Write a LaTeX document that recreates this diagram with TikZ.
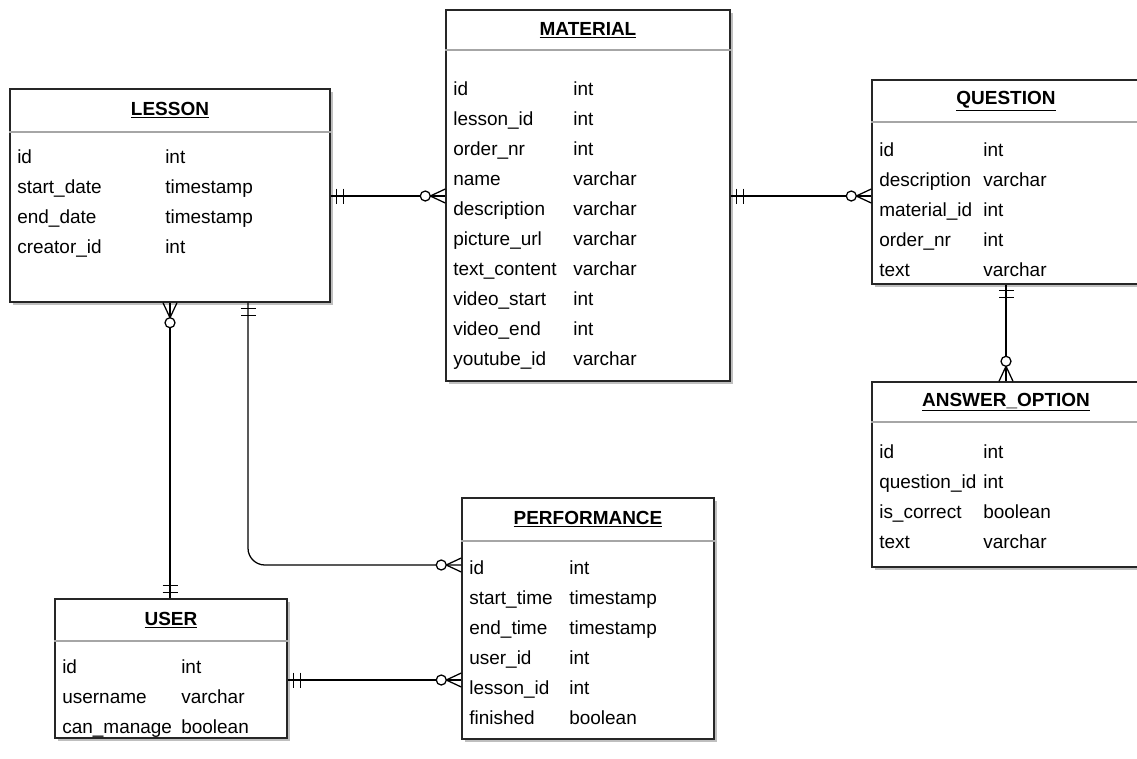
\documentclass[tikz,border=0pt]{standalone}
\usepackage{fontspec}
\setmainfont{Liberation Sans}
\usetikzlibrary{fit,shadows,decorations.markings}

\newcommand{\erfont}{\fontsize{13.5}{16}\selectfont}

\tikzset{
    entity/.style={draw=black!85, line width=1pt, fill=white, inner sep=0pt,
        drop shadow={shadow xshift=2pt, shadow yshift=-2pt, fill=black!25, opacity=1}},
    title/.style={font=\erfont\bfseries, inner sep=0pt},
    field/.style={font=\erfont, anchor=west, inner sep=0pt, text height=1.5ex, text depth=0.25ex},
    header/.style={draw=black!35, line width=1pt},
    rel/.style={line width=0.9pt},
    one start/.style={postaction={decorate, decoration={markings,
        mark=at position 0.15cm with {\draw[rel] (0,-7.5) -- (0,7.5);},
        mark=at position 0.32cm with {\draw[rel] (0,-7.5) -- (0,7.5);}}}},
    many end/.style={postaction={decorate, decoration={markings,
        mark=at position 0.9999 with {\draw[rel, sharp corners] (0,-7) -- (-15,0) -- (0,7);
            \draw[rel, fill=white] (-20,0) circle (5);}}}},
}

\begin{document}
\begin{tikzpicture}[x=0.025cm, y=-0.025cm]
    \useasboundingbox (0,0) rectangle (1137,758);

    % lesson
    \node[entity, fit={(10,89) (330,302)}] (lesson) {};
    \node[title] (lesson title) at (lesson.north |- 0,110) {\underline{LESSON}};
    \draw[header] (lesson.west |- 0,132) -- (lesson.east |- 0,132);
    \foreach \name/\type [count=\i from 0] in {id/int, start\_date/timestamp, end\_date/timestamp, creator\_id/int}
        {\node[field] (lesson n\i) at (17,159+30*\i) {\name};
         \node[field] (lesson t\i) at (165,159+30*\i) {\type};}

    % material
    \node[entity, fit={(446,10) (730,381)}] (material) {};
    \node[title] (material title) at (material.north |- 0,30) {\underline{MATERIAL}};
    \draw[header] (material.west |- 0,50) -- (material.east |- 0,50);
    \foreach \name/\type [count=\i from 0] in {id/int, lesson\_id/int, order\_nr/int, name/varchar, description/varchar,
            picture\_url/varchar, text\_content/varchar, video\_start/int, video\_end/int, youtube\_id/varchar}
        {\node[field] (material n\i) at (453,91+30*\i) {\name};
         \node[field] (material t\i) at (573,91+30*\i) {\type};}

    % question
    \node[entity, fit={(872,80) (1140,284)}] (question) {};
    \node[title] (question title) at (question.north |- 0,101) {\underline{QUESTION}};
    \draw[header] (question.west |- 0,122) -- (question.east |- 0,122);
    \foreach \name/\type [count=\i from 0] in {id/int, description/varchar, material\_id/int, order\_nr/int, text/varchar}
        {\node[field] (question n\i) at (879,152+30*\i) {\name};
         \node[field] (question t\i) at (983,152+30*\i) {\type};}

    % answer option
    \node[entity, fit={(872,382) (1140,567)}] (answer) {};
    \node[title] (answer title) at (answer.north |- 0,402) {\underline{ANSWER\_OPTION}};
    \draw[header] (answer.west |- 0,422) -- (answer.east |- 0,422);
    \foreach \name/\type [count=\i from 0] in {id/int, question\_id/int, is\_correct/boolean, text/varchar}
        {\node[field] (answer n\i) at (879,454+30*\i) {\name};
         \node[field] (answer t\i) at (983,454+30*\i) {\type};}

    % performance
    \node[entity, fit={(462,498) (714,739)}] (performance) {};
    \node[title] (performance title) at (performance.north |- 0,519) {\underline{PERFORMANCE}};
    \draw[header] (performance.west |- 0,541) -- (performance.east |- 0,541);
    \foreach \name/\type [count=\i from 0] in {id/int, start\_time/timestamp, end\_time/timestamp, user\_id/int,
            lesson\_id/int, finished/boolean}
        {\node[field] (performance n\i) at (469,570+30*\i) {\name};
         \node[field] (performance t\i) at (569,570+30*\i) {\type};}

    % user
    \node[entity, fit={(55,599) (287,738)}] (user) {};
    \node[title] (user title) at (user.north |- 0,620) {\underline{USER}};
    \draw[header] (user.west |- 0,641) -- (user.east |- 0,641);
    \foreach \name/\type [count=\i from 0] in {id/int, username/varchar, can\_manage/boolean}
        {\node[field] (user n\i) at (62,669+30*\i) {\name};
         \node[field] (user t\i) at (181,669+30*\i) {\type};}

    % relations
    \draw[rel, one start, many end] (lesson.east |- 0,196) -- (material.west |- 0,196);
    \draw[rel, one start, many end] (material.east |- 0,196) -- (question.west |- 0,196);
    \draw[rel, one start, many end] (question.south) -- (answer.north);
    \draw[rel, one start, many end] (user.north -| 170,0) -- (lesson.south -| 170,0);
    \draw[rel, one start, many end, rounded corners=12] (lesson.south -| 248,0) |- (performance.west |- 0,565);
    \draw[rel, one start, many end] (user.east |- 0,680) -- (performance.west |- 0,680);
\end{tikzpicture}
\end{document}
